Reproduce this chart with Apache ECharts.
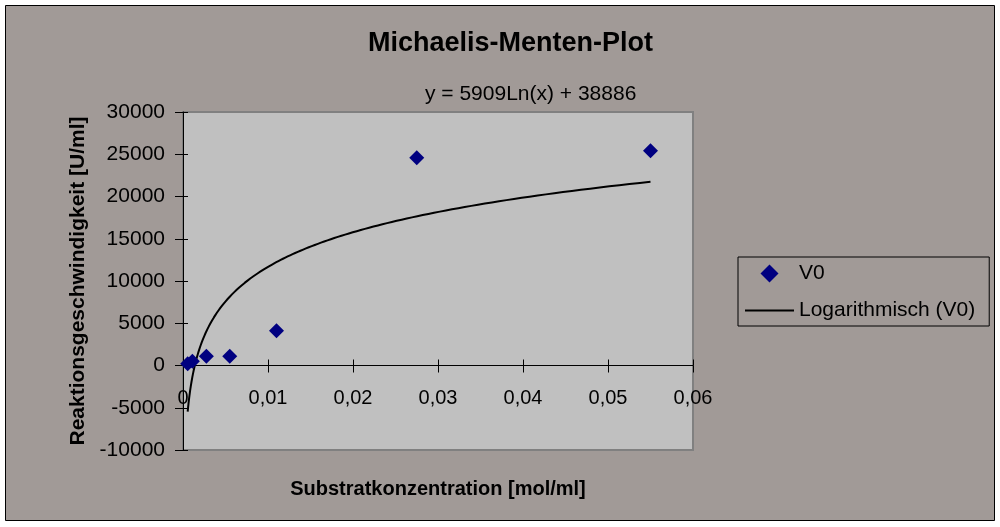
<!DOCTYPE html>
<html>
<head>
<meta charset="utf-8">
<script src="https://cdn.jsdelivr.net/npm/echarts@6/dist/echarts.min.js"></script>
<style>
  html, body { margin: 0; padding: 0; background: #ffffff; }
  #chart { width: 1000px; height: 527px; }
</style>
</head>
<body>
<div id="chart"></div>
<script>
// Substrate concentrations [mol/ml] and measured initial rates V0 [U/ml]
const substrate = [0.00055, 0.0011, 0.00275, 0.0055, 0.011, 0.0275, 0.055];
const v0 = [200, 500, 1100, 1100, 4100, 24600, 25400];

// Logarithmic trendline y = a*ln(x) + b
const trendSlope = 5909;
const trendIntercept = 38886;

// Axis ranges
const xRange = [0, 0.06, 0.01];
const yRange = [-10000, 30000, 5000];

const FONT = 'Arial, "Liberation Sans", sans-serif';

const points = substrate.map((x, i) => [x, v0[i]]);

// Trendline sampled over the measured concentration range
const xLo = Math.min(...substrate);
const xHi = Math.max(...substrate);
const trend = [];
const steps = 200;
for (let i = 0; i <= steps; i++) {
  const x = xLo * Math.pow(xHi / xLo, i / steps);
  trend.push([x, trendSlope * Math.log(x) + trendIntercept]);
}

const fmtX = v => String(+v.toFixed(4)).replace('.', ',');
const fmtY = v => String(v);
const equation = 'y = ' + trendSlope + 'Ln(x) + ' + trendIntercept;

const chart = echarts.init(document.getElementById('chart'), null, { renderer: 'canvas' });

chart.setOption({
  backgroundColor: '#ffffff',
  animation: false,
  textStyle: { fontFamily: FONT },
  title: {
    text: 'Michaelis-Menten-Plot',
    left: 368,
    top: 30,
    padding: 0,
    textStyle: { fontFamily: FONT, fontSize: 27, fontWeight: 'bold', color: '#000' }
  },
  graphic: [
    {
      type: 'rect',
      z: -10,
      silent: true,
      shape: { x: 5.5, y: 5.5, width: 989, height: 515 },
      style: { fill: '#A19A97', stroke: '#000', lineWidth: 1 }
    },
    {
      type: 'text',
      left: 425,
      top: 84,
      silent: true,
      style: { text: equation, fontFamily: FONT, fontSize: 21, fill: '#000' }
    }
  ],
  legend: {
    orient: 'vertical',
    left: 738,
    top: 257,
    padding: [6, 14, 5, 7],
    itemGap: 16,
    itemWidth: 49,
    itemHeight: 18,
    symbolKeepAspect: true,
    borderColor: '#000',
    borderWidth: 1,
    textStyle: { fontFamily: FONT, fontSize: 21, color: '#000' },
    data: [
      { name: 'V0', icon: 'path://M7.5,0L15,7.5L7.5,15L0,7.5Z', symbolKeepAspect: true },
      { name: 'Logarithmisch (V0)', icon: 'path://M0,0H48V2H0Z', symbolKeepAspect: true }
    ]
  },
  grid: {
    left: 183,
    right: 307,
    top: 112,
    bottom: 77,
    containLabel: false,
    outerBoundsMode: 'none',
    show: true,
    backgroundColor: '#C0C0C0',
    borderColor: '#808080',
    borderWidth: 2
  },
  xAxis: [
    {
      type: 'value',
      min: xRange[0], max: xRange[1], interval: xRange[2],
      name: 'Substratkonzentration [mol/ml]',
      nameLocation: 'middle',
      nameGap: 29,
      nameTextStyle: { fontFamily: FONT, fontSize: 20, fontWeight: 'bold', color: '#000' },
      axisLine: { onZero: true, lineStyle: { color: '#000', width: 1 } },
      axisTick: { show: true, length: 7, lineStyle: { color: '#000' } },
      axisLabel: { margin: -62, fontFamily: FONT, fontSize: 20, color: '#000', formatter: fmtX },
      splitLine: { show: false }
    },
    {
      type: 'value',
      position: 'top',
      min: xRange[0], max: xRange[1], interval: xRange[2],
      axisLine: { show: false, onZero: true },
      axisTick: { show: true, length: 6, lineStyle: { color: '#000' } },
      axisLabel: { show: false },
      splitLine: { show: false }
    }
  ],
  yAxis: [
    {
      type: 'value',
      min: yRange[0], max: yRange[1], interval: yRange[2],
      name: 'Reaktionsgeschwindigkeit [U/ml]',
      nameLocation: 'middle',
      nameGap: 92,
      nameTextStyle: { fontFamily: FONT, fontSize: 21, fontWeight: 'bold', color: '#000' },
      axisLine: { show: true, onZero: true, lineStyle: { color: '#000', width: 1 } },
      axisTick: { show: true, length: 8, lineStyle: { color: '#000' } },
      axisLabel: { margin: 18, fontFamily: FONT, fontSize: 21, color: '#000', formatter: fmtY },
      splitLine: { show: false }
    },
    {
      type: 'value',
      position: 'right',
      min: yRange[0], max: yRange[1], interval: yRange[2],
      axisLine: { show: false, onZero: true },
      axisTick: { show: true, length: 5, lineStyle: { color: '#000' } },
      axisLabel: { show: false },
      splitLine: { show: false }
    }
  ],
  series: [
    {
      name: 'Logarithmisch (V0)',
      type: 'line',
      xAxisIndex: 0,
      yAxisIndex: 0,
      data: trend,
      showSymbol: false,
      symbol: 'none',
      smooth: false,
      lineStyle: { color: '#000', width: 2 },
      itemStyle: { color: '#000' },
      z: 2
    },
    {
      name: 'V0',
      type: 'scatter',
      xAxisIndex: 0,
      yAxisIndex: 0,
      data: points,
      symbol: 'diamond',
      symbolSize: 15,
      itemStyle: { color: '#000080', opacity: 1 },
      z: 3
    }
  ]
});
</script>
</body>
</html>
